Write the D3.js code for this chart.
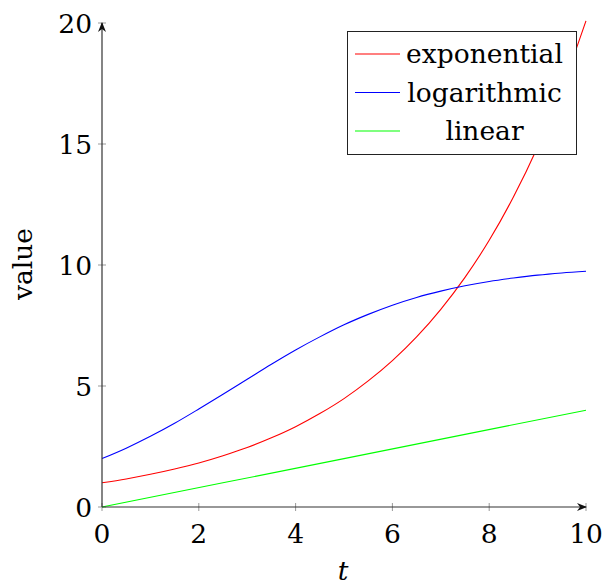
<!DOCTYPE html>
<html>
<head>
<meta charset="utf-8">
<script src="https://cdn.jsdelivr.net/npm/d3@7"></script>
<style>
  body { margin: 0; background: #fff; }
</style>
</head>
<body>
<div id="chart"></div>
<script>
// values
const tValues = [0, 0.5, 1, 1.5, 2, 2.5, 3, 3.5, 4, 4.5, 5, 5.5, 6, 6.5, 7, 7.5, 8, 8.5, 9, 9.5, 10];
const expValues = [1, 1.16, 1.35, 1.57, 1.82, 2.12, 2.46, 2.86, 3.32, 3.86, 4.48, 5.21, 6.05, 7.03, 8.17, 9.49, 11.02, 12.81, 14.88, 17.29, 20.09];
const logValues = [2, 2.43, 2.92, 3.46, 4.05, 4.66, 5.28, 5.9, 6.49, 7.03, 7.53, 7.96, 8.34, 8.66, 8.92, 9.14, 9.32, 9.46, 9.58, 9.67, 9.74];
const linT = [0, 5, 10];
const linValues = [0, 2, 4];
const xTicks = [0, 2, 4, 6, 8, 10];
const yTicks = [0, 5, 10, 15, 20];
const seriesNames = ['exponential', 'logarithmic', 'linear'];
const seriesColors = ['#ff0000', '#0000ff', '#00ff00'];

const font = 'DejaVu Serif, serif';
const fs = 26.5;
const width = 604, height = 586;
const svg = d3.select('#chart').append('svg').attr('width', width).attr('height', height)
  .attr('font-family', font);

const x = d3.scaleLinear().domain([0, 10]).range([102, 586]);
const y = d3.scaleLinear().domain([0, 20]).range([507, 23]);

// tick marks
svg.append('g').selectAll('line').data(xTicks).join('line')
  .attr('x1', d => x(d)).attr('x2', d => x(d))
  .attr('y1', y(0) - 4).attr('y2', y(0) + 4)
  .attr('stroke', '#999').attr('stroke-width', 1);
svg.append('g').selectAll('line').data(yTicks).join('line')
  .attr('x1', x(0) - 4).attr('x2', x(0) + 4)
  .attr('y1', d => y(d)).attr('y2', d => y(d))
  .attr('stroke', '#999').attr('stroke-width', 1);

// series
const line = d3.line().x(d => x(d[0])).y(d => y(d[1])).curve(d3.curveMonotoneX);
const data = [
  d3.zip(tValues, expValues),
  d3.zip(tValues, logValues),
  d3.zip(linT, linValues)
];
svg.append('g').selectAll('path').data(data).join('path')
  .attr('d', line)
  .attr('fill', 'none')
  .attr('stroke', (d, i) => seriesColors[i])
  .attr('stroke-width', 1.1);

// axis lines with arrows
const defs = svg.append('defs');
defs.append('marker').attr('id', 'arrow')
  .attr('viewBox', '0 0 10 10').attr('refX', 9).attr('refY', 5)
  .attr('markerWidth', 10).attr('markerHeight', 10)
  .attr('markerUnits', 'userSpaceOnUse')
  .attr('orient', 'auto')
  .append('path').attr('d', 'M0,1 L10,5 L0,9 L3,5 Z').attr('fill', '#111');

svg.append('line')
  .attr('x1', x(0)).attr('x2', x(10)).attr('y1', y(0)).attr('y2', y(0))
  .attr('stroke', '#333').attr('stroke-width', 1.2).attr('marker-end', 'url(#arrow)');
svg.append('line')
  .attr('x1', x(0)).attr('x2', x(0)).attr('y1', y(0)).attr('y2', y(20))
  .attr('stroke', '#333').attr('stroke-width', 1.2).attr('marker-end', 'url(#arrow)');

// tick labels
svg.append('g').selectAll('text').data(xTicks).join('text')
  .attr('x', d => x(d)).attr('y', y(0) + 36)
  .attr('text-anchor', 'middle').attr('font-size', fs)
  .text(d => d);
svg.append('g').selectAll('text').data(yTicks).join('text')
  .attr('x', x(0) - 10).attr('y', d => y(d) + 10)
  .attr('text-anchor', 'end').attr('font-size', fs)
  .text(d => d);

// axis labels
svg.append('text').attr('x', 343).attr('y', 580)
  .attr('text-anchor', 'middle').attr('font-size', fs).attr('font-style', 'italic')
  .text('t');
svg.append('text').attr('transform', 'translate(32,264) rotate(-90)')
  .attr('text-anchor', 'middle').attr('font-size', fs)
  .text('value');

// legend
const lg = svg.append('g');
lg.append('rect').attr('x', 347.5).attr('y', 31.5).attr('width', 229).attr('height', 123)
  .attr('fill', '#fff').attr('stroke', '#222').attr('stroke-width', 1);
const rows = lg.selectAll('g.row').data(seriesNames).join('g').attr('class', 'row')
  .attr('transform', (d, i) => `translate(0,${54 + i * 38.5})`);
rows.append('line').attr('x1', 355).attr('x2', 400).attr('y1', 0).attr('y2', 0)
  .attr('stroke', (d, i) => seriesColors[i]).attr('stroke-width', 1.1);
rows.append('text').attr('x', 484.5).attr('y', 9)
  .attr('text-anchor', 'middle').attr('font-size', fs)
  .text(d => d);
</script>
</body>
</html>
